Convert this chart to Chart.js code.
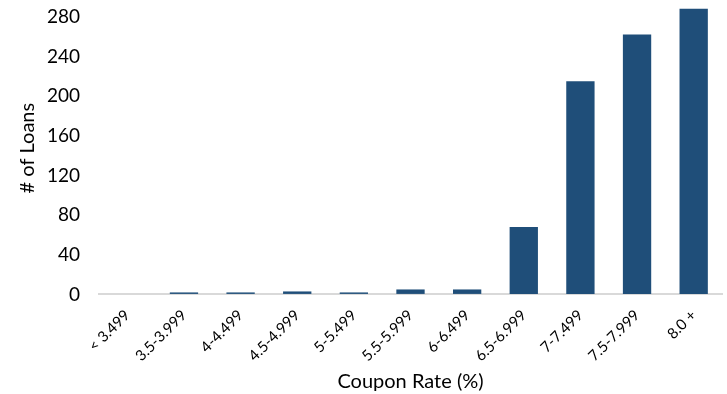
<!DOCTYPE html>
<html>
<head>
<meta charset="utf-8">
<script src="https://cdn.jsdelivr.net/npm/chart.js@4.4.1/dist/chart.umd.min.js"></script>
<style>
  html, body { margin: 0; padding: 0; background: #fff; }
  #wrap { width: 727px; height: 394px; position: relative; }
</style>
</head>
<body>
<div id="wrap"><canvas id="c" width="727" height="394"></canvas></div>
<script>
const categories = ["< 3.499", "3.5-3.999", "4-4.499", "4.5-4.999", "5-5.499", "5.5-5.999", "6-6.499", "6.5-6.999", "7-7.499", "7.5-7.999", "8.0 +"];
const loanCounts = [0, 2, 2, 3, 2, 5, 5, 68, 215, 262, 288];
const yTicks = [0, 40, 80, 120, 160, 200, 240, 280];

const FONT = "Lato, 'Open Sans', sans-serif";

new Chart(document.getElementById('c'), {
  type: 'bar',
  data: {
    labels: categories,
    datasets: [{
      data: loanCounts,
      backgroundColor: '#1f4e79',
      borderWidth: 0,
      categoryPercentage: 1.0,
      barPercentage: 0.5,
      clip: false
    }]
  },
  options: {
    responsive: false,
    animation: false,
    layout: { padding: { left: 0, right: 5, top: 0, bottom: 0 } },
    plugins: { legend: { display: false }, tooltip: { enabled: false } },
    scales: {
      x: {
        grid: { display: false },
        border: { display: true, color: '#d9d9d9', width: 2 },
        ticks: {
          color: '#000',
          font: { family: FONT, size: 15 },
          minRotation: 45, maxRotation: 45,
          padding: 4
        },
        title: {
          display: true, text: 'Coupon Rate (%)', color: '#000',
          font: { family: FONT, size: 20 }, padding: { top: 1, bottom: 0 }
        }
      },
      y: {
        min: 0, max: 295,
        grid: { display: true, drawOnChartArea: false, drawTicks: true, tickLength: 19, tickColor: 'rgba(0,0,0,0)' },
        border: { display: false },
        afterBuildTicks: (axis) => { axis.ticks = yTicks.map(v => ({ value: v })); },
        afterFit: (axis) => { axis.width = 99; },
        ticks: {
          color: '#000',
          font: { family: FONT, size: 19, lineHeight: 0.2 },
          padding: 0
        },
        title: {
          display: true, text: '# of Loans', color: '#000',
          font: { family: FONT, size: 20 }, padding: { top: 16, bottom: 0 }
        }
      }
    }
  }
});
</script>
</body>
</html>
